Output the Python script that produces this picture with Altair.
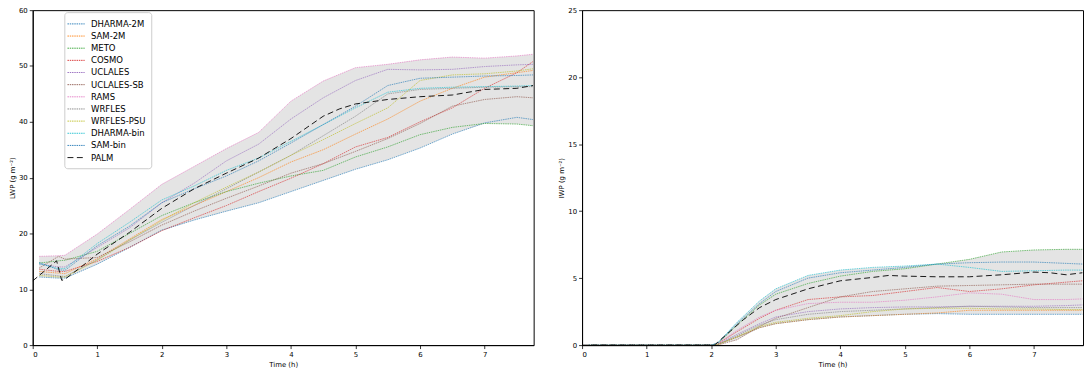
import altair as alt
import pandas as pd

models = ["DHARMA-2M", "SAM-2M", "METO", "COSMO", "UCLALES", "UCLALES-SB",
          "RAMS", "WRFLES", "WRFLES-PSU", "DHARMA-bin", "SAM-bin"]
series_order = models + ["PALM"]
series_colors = ["#1f77b4", "#ff7f0e", "#2ca02c", "#d62728", "#9467bd", "#8c564b",
                 "#e377c2", "#7f7f7f", "#bcbd22", "#17becf", "#1f77b4", "#000000"]

# ---- LWP (left panel) ----
lwp_time = [0.1, 0.4, 0.5, 1, 1.5, 2, 2.5, 3, 3.5, 4, 4.5, 5, 5.5, 6, 6.5, 7, 7.5, 7.75]
lwp_dharma_2m = [12.2, 12.0, 12.0, 14.5, 17.5, 20.6, 22.4, 24.0, 25.5, 27.5, 29.5, 31.5, 33.2, 35.3, 37.8, 39.8, 40.8, 40.4]
lwp_sam_2m = [13.2, 12.9, 12.8, 15.5, 19.0, 22.5, 25.0, 27.5, 30.0, 32.8, 35.0, 37.8, 40.5, 43.7, 46.0, 48.0, 48.8, 49.2]
lwp_meto = [14.7, 15.1, 15.2, 16.8, 20.0, 23.2, 25.5, 27.5, 29.0, 30.3, 31.3, 33.7, 35.5, 37.7, 39.0, 39.7, 39.6, 39.3]
lwp_cosmo = [13.6, 13.2, 13.2, 15.0, 17.5, 20.5, 22.8, 25.0, 27.5, 29.9, 32.5, 35.5, 37.2, 40.0, 42.5, 46.0, 48.8, 50.8]
lwp_uclales = [14.5, 14.0, 14.0, 17.5, 21.0, 25.5, 29.0, 33.0, 36.0, 40.5, 44.3, 47.4, 49.4, 49.3, 49.4, 49.9, 50.2, 50.3]
lwp_uclales_sb = [13.8, 15.9, 15.4, 15.7, 18.5, 21.5, 24.0, 26.3, 28.5, 30.8, 32.5, 34.7, 37.0, 39.7, 42.8, 44.0, 44.5, 44.3]
lwp_rams = [15.9, 16.0, 16.1, 19.9, 24.3, 28.8, 32.0, 35.2, 38.1, 43.7, 47.3, 49.7, 50.3, 51.1, 51.6, 51.4, 51.8, 52.1]
lwp_wrfles = [12.8, 12.4, 12.3, 15.3, 18.8, 22.0, 25.0, 28.0, 31.0, 34.0, 37.5, 41.0, 45.0, 45.8, 46.0, 46.2, 46.3, 46.3]
lwp_wrfles_psu = [12.5, 12.2, 12.2, 15.2, 18.8, 22.3, 25.5, 28.3, 31.0, 34.0, 36.8, 39.7, 42.5, 47.4, 48.4, 48.6, 49.1, 49.5]
lwp_dharma_bin = [14.6, 13.7, 13.7, 18.2, 22.0, 26.0, 28.5, 31.3, 33.5, 36.5, 39.5, 42.5, 45.3, 46.0, 46.2, 46.3, 46.4, 46.5]
lwp_sam_bin = [14.8, 13.5, 13.4, 17.8, 21.3, 25.5, 28.0, 30.3, 33.0, 36.2, 39.5, 42.8, 46.5, 47.8, 48.0, 48.2, 48.3, 48.4]

lwp_palm_time = [0, 0.37, 0.45, 0.5, 0.75, 1, 1.5, 2, 2.5, 3, 3.5, 4, 4.5, 4.75, 5, 5.5, 6, 6.5, 7, 7.5, 7.75]
lwp_palm = [11.5, 15.1, 11.6, 11.8, 14.0, 16.3, 20.2, 24.5, 28.0, 30.8, 33.5, 37.0, 41.0, 42.3, 43.2, 44.0, 44.5, 44.8, 45.8, 46.0, 46.5]

# ---- IWP (right panel) ----
iwp_time = [0.1, 1, 2.0, 2.1, 2.4, 2.75, 3, 3.5, 4, 4.5, 5, 5.5, 6, 6.5, 7, 7.5, 7.75]
iwp_dharma_2m = [0, 0, 0, 0.05, 0.6, 1.3, 1.6, 1.9, 2.1, 2.2, 2.3, 2.35, 2.3, 2.3, 2.3, 2.3, 2.3]
iwp_sam_2m = [0, 0, 0, 0.05, 0.6, 1.3, 1.6, 1.9, 2.1, 2.2, 2.3, 2.4, 2.6, 2.6, 2.6, 2.6, 2.6]
iwp_meto = [0, 0, 0, 0.1, 1.5, 3.0, 3.8, 4.6, 5.15, 5.5, 5.7, 6.05, 6.4, 6.95, 7.1, 7.15, 7.15]
iwp_cosmo = [0, 0, 0, 0.1, 1.0, 2.0, 2.6, 3.4, 3.6, 3.7, 4.0, 4.3, 4.0, 4.2, 4.5, 4.7, 4.8]
iwp_uclales = [0, 0, 0, 0.05, 0.8, 1.6, 2.1, 2.5, 2.7, 2.8, 2.85, 2.85, 2.9, 2.9, 2.9, 2.95, 3.0]
iwp_uclales_sb = [0, 0, 0, 0, 0.4, 1.4, 2.0, 2.8, 3.6, 4.0, 4.2, 4.4, 4.45, 4.5, 4.55, 4.55, 4.55]
iwp_rams = [0, 0, 0, 0.1, 1.1, 2.1, 2.6, 3.1, 3.2, 3.2, 3.35, 3.6, 3.9, 3.8, 3.4, 3.4, 3.45]
iwp_wrfles = [0, 0, 0, 0.05, 0.7, 1.5, 1.9, 2.3, 2.5, 2.6, 2.7, 2.8, 2.9, 2.85, 2.8, 2.8, 2.8]
iwp_wrfles_psu = [0, 0, 0, 0.05, 0.6, 1.4, 1.7, 2.0, 2.2, 2.5, 2.7, 2.75, 2.75, 2.7, 2.7, 2.65, 2.65]
iwp_dharma_bin = [0, 0, 0, 0.15, 1.7, 3.3, 4.2, 5.2, 5.6, 5.8, 5.9, 6.05, 5.8, 5.5, 5.55, 5.6, 5.6]
iwp_sam_bin = [0, 0, 0, 0.15, 1.6, 3.1, 4.0, 5.0, 5.4, 5.6, 5.8, 6.05, 6.15, 6.2, 6.2, 6.1, 6.05]

iwp_palm_time = [0, 2.05, 2.5, 2.75, 3, 3.5, 4, 4.5, 4.75, 5, 5.5, 6, 6.5, 7, 7.25, 7.5, 7.75]
iwp_palm = [0, 0, 1.9, 2.8, 3.4, 4.2, 4.8, 5.05, 5.2, 5.15, 5.1, 5.1, 5.25, 5.45, 5.4, 5.25, 5.4]

lwp_models = [lwp_dharma_2m, lwp_sam_2m, lwp_meto, lwp_cosmo, lwp_uclales, lwp_uclales_sb,
              lwp_rams, lwp_wrfles, lwp_wrfles_psu, lwp_dharma_bin, lwp_sam_bin]
iwp_models = [iwp_dharma_2m, iwp_sam_2m, iwp_meto, iwp_cosmo, iwp_uclales, iwp_uclales_sb,
              iwp_rams, iwp_wrfles, iwp_wrfles_psu, iwp_dharma_bin, iwp_sam_bin]


def long_table(times, arrays):
    rows = []
    for name, arr in zip(models, arrays):
        for t, v in zip(times, arr):
            rows.append({"time": t, "value": v, "series": name})
    return pd.DataFrame(rows)


lwp_df = long_table(lwp_time, lwp_models)
iwp_df = long_table(iwp_time, iwp_models)
lwp_palm_df = pd.DataFrame({"time": lwp_palm_time, "value": lwp_palm, "series": "PALM"})
iwp_palm_df = pd.DataFrame({"time": iwp_palm_time, "value": iwp_palm, "series": "PALM"})

XMAX = 7.76
W, H = 507, 339
FONT = "DejaVu Sans"

dash_range = [[1.5, 0.8]] * 11 + [[6, 3.5]]
width_range = [0.9] * 11 + [2.6]


def panel(models_df, palm_df, ymax, ystep, ytitle, show_legend):
    if show_legend:
        leg = alt.Legend(
            orient="none", legendX=32, legendY=2, title=None,
            symbolType="M-1.45,0H1.45", symbolSize=144, symbolOpacity=1,
            labelFontSize=8.6, labelFont=FONT, labelColor="black",
            labelOffset=8.6, rowPadding=0.3, padding=5.4,
            strokeColor="#cccccc", fillColor="white", cornerRadius=3,
        )
    else:
        leg = None
    color = alt.Color("series:N", scale=alt.Scale(domain=series_order, range=series_colors),
                      sort=series_order, legend=leg)
    dash = alt.StrokeDash("series:N", scale=alt.Scale(domain=series_order, range=dash_range),
                          sort=series_order, legend=leg)
    swidth = alt.StrokeWidth("series:N", scale=alt.Scale(domain=series_order, range=width_range),
                             sort=series_order, legend=leg)
    xenc = alt.X("time:Q", scale=alt.Scale(domain=[0, XMAX], nice=False),
                 axis=alt.Axis(values=list(range(8)), title="Time (h)", format="d"))
    yvals = list(range(0, ymax + 1, ystep))
    yaxis = alt.Axis(values=yvals, title=ytitle, format="d")

    band = alt.Chart(models_df).mark_area(color="#e4e4e4", opacity=1, clip=True).encode(
        x=xenc,
        y=alt.Y("min(value):Q", scale=alt.Scale(domain=[0, ymax], nice=False), axis=yaxis),
        y2=alt.Y2("max(value):Q"),
    )
    lines = alt.Chart(models_df).mark_line(opacity=0.7, clip=True).encode(
        x="time:Q", y="value:Q", color=color, strokeDash=dash, strokeWidth=swidth,
        detail="series:N",
    )
    palm = alt.Chart(palm_df).mark_line(clip=True).encode(
        x="time:Q", y="value:Q", color=color, strokeDash=dash, strokeWidth=swidth,
    )
    return alt.layer(band, lines, palm).properties(width=W, height=H)


left = panel(lwp_df, lwp_palm_df, 60, 10, "LWP (g m⁻²)", True)
right = panel(iwp_df, iwp_palm_df, 25, 5, "IWP (g m⁻²)", False)

chart = alt.hconcat(left, right, spacing=23).resolve_scale(
    color="independent", strokeDash="independent", strokeWidth="independent"
).properties(
    padding={"left": 0, "top": -5, "right": 0, "bottom": 0}
).configure_view(
    stroke="black", strokeWidth=1
).configure_axis(
    grid=False, domainColor="black", tickColor="black", labelColor="black",
    titleColor="black", labelFont=FONT, titleFont=FONT, labelFontSize=7,
    titleFontSize=7, titleFontWeight="normal", tickSize=3.5, labelPadding=2,
    titlePadding=3, domainWidth=1, tickWidth=0.8
)

chart.save("out.html", embed_options={"renderer": "svg", "actions": False})
